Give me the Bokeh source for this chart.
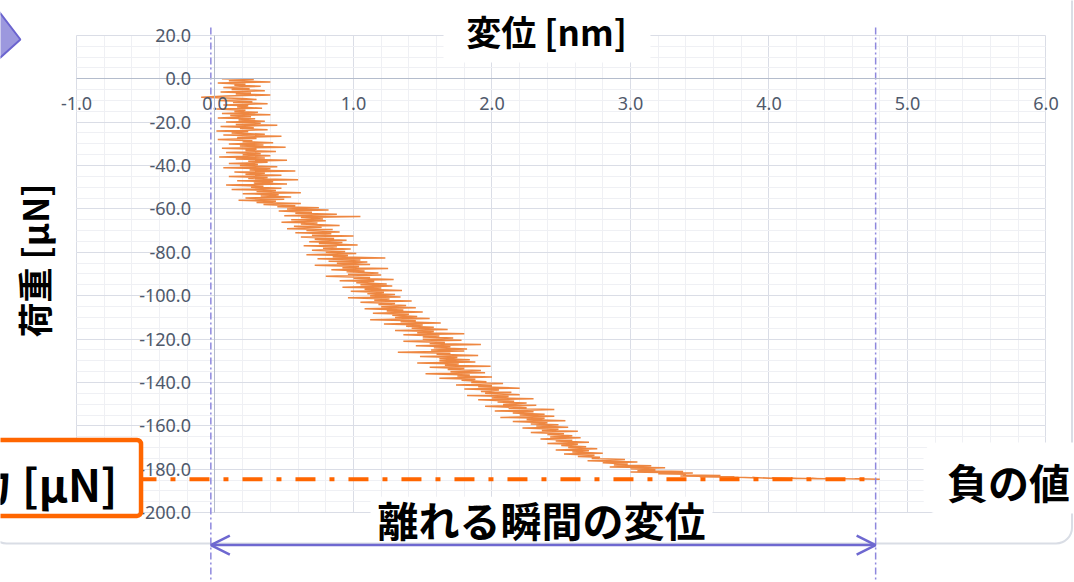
import math

from bokeh.plotting import figure
from bokeh.models import (Range1d, LinearAxis, Grid, FixedTicker, PrintfTickFormatter,
                          Label, BoxAnnotation, Arrow, OpenHead)
from bokeh.embed import file_html
from bokeh.resources import INLINE

# ---- measured pull-off curve: displacement [nm] vs load [uN] ----
displacement_nm = [
    0.05, 0.28, 0.10, 0.40, 0.02, 0.22, 0.14, 0.33, 0.06, 0.25,
    0.12, 0.36, 0.04, 0.26, 0.15, 0.40, 0.08, -0.10, 0.20, 0.30,
    0.03, 0.27, 0.13, 0.38, 0.06, 0.24, 0.16, 0.34, 0.01, 0.22,
    0.14, 0.31, 0.05, 0.40, 0.11, 0.26, 0.02, 0.29, 0.17, 0.36,
    0.08, 0.33, 0.15, 0.45, 0.04, 0.28, 0.18, 0.38, 0.01, 0.24,
    0.12, 0.36, 0.06, 0.48, 0.16, 0.30, 0.02, 0.27, 0.20, 0.42,
    0.10, 0.35, 0.18, 0.51, 0.05, 0.30, 0.22, 0.44, 0.08, 0.33,
    0.20, 0.40, 0.03, 0.36, 0.15, 0.52, 0.24, 0.38, 0.10, 0.31,
    0.18, 0.45, 0.06, 0.40, 0.25, 0.58, 0.14, 0.36, 0.22, 0.48,
    0.10, 0.38, 0.24, 0.60, 0.16, 0.42, 0.28, 0.52, 0.08, 0.35,
    0.26, 0.48, 0.12, 0.44, 0.30, 0.62, 0.20, 0.46, 0.33, 0.55,
    0.22, 0.50, 0.17, 0.44, 0.30, 0.62, 0.35, 0.58, 0.45, 0.75,
    0.52, 0.82, 0.46, 0.70, 0.58, 0.88, 0.50, 1.05, 0.62, 0.78,
    0.55, 0.80, 0.48, 0.74, 0.62, 0.90, 0.57, 0.77, 0.52, 0.85,
    0.66, 0.90, 0.58, 0.84, 0.70, 1.00, 0.62, 0.86, 0.72, 0.95,
    0.68, 0.92, 0.75, 1.03, 0.64, 0.88, 0.78, 0.98, 0.70, 0.94,
    0.80, 1.02, 0.66, 0.96, 0.85, 1.23, 0.74, 1.05, 0.82, 1.10,
    0.88, 1.12, 0.72, 1.04, 0.92, 1.25, 0.84, 1.08, 0.95, 1.18,
    0.96, 1.20, 0.80, 1.12, 1.00, 1.29, 0.90, 1.15, 1.02, 1.24,
    1.05, 1.28, 0.92, 1.20, 1.08, 1.35, 0.98, 1.22, 1.10, 1.30,
    1.12, 1.34, 0.96, 1.26, 1.15, 1.42, 1.05, 1.30, 1.18, 1.38,
    1.20, 1.45, 1.08, 1.36, 1.24, 1.50, 1.14, 1.40, 1.28, 1.46,
    1.30, 1.55, 1.12, 1.45, 1.34, 1.63, 1.22, 1.50, 1.38, 1.58,
    1.42, 1.68, 1.30, 1.58, 1.46, 1.80, 1.36, 1.62, 1.50, 1.72,
    1.50, 1.78, 1.36, 1.66, 1.55, 1.92, 1.45, 1.70, 1.58, 1.82,
    1.56, 1.80, 1.32, 1.70, 1.60, 1.90, 1.48, 1.75, 1.62, 1.84,
    1.62, 1.88, 1.46, 1.76, 1.66, 1.99, 1.55, 1.80, 1.68, 1.92,
    1.70, 1.95, 1.52, 1.84, 1.75, 2.00, 1.62, 1.88, 1.78, 1.96,
    1.85, 2.08, 1.74, 2.00, 1.90, 2.20, 1.80, 2.05, 1.92, 2.14,
    1.95, 2.20, 1.82, 2.12, 2.00, 2.30, 1.90, 2.16, 2.04, 2.25,
    2.08, 2.32, 1.95, 2.25, 2.12, 2.45, 2.02, 2.30, 2.15, 2.38,
    2.20, 2.45, 2.06, 2.38, 2.25, 2.53, 2.15, 2.40, 2.28, 2.48,
    2.32, 2.55, 2.22, 2.48, 2.36, 2.62, 2.28, 2.52, 2.40, 2.58,
    2.42, 2.64, 2.35, 2.58, 2.46, 2.70, 2.40, 2.62, 2.50, 2.68,
    2.55, 2.76, 2.46, 2.70, 2.58, 2.80, 2.52, 2.74, 2.62, 2.78,
    2.72, 2.96, 2.69, 3.05, 2.80, 2.98,
    2.88, 3.15, 2.85, 3.25, 3.00, 3.18,
    3.05, 3.38, 3.00, 3.45, 3.20, 3.40,
    3.38, 3.65, 3.36, 3.75, 3.50, 3.70,
    3.78, 3.92, 3.88, 4.06, 4.02, 4.20, 4.16, 4.35, 4.31, 4.50, 4.48, 4.65, 4.62, 4.80,
]
load_uN = [
    0.0, -0.4, -1.0, -1.5, -2.0, -2.6, -3.0, -3.5, -4.1, -4.6,
    -5.0, -5.5, -6.1, -6.6, -7.0, -7.5, -8.0, -8.5, -9.1, -9.6,
    -10.0, -10.6, -11.0, -11.5, -12.1, -12.5, -13.0, -13.6, -14.0, -14.5,
    -15.1, -15.5, -16.0, -16.6, -17.0, -17.5, -18.1, -18.5, -19.0, -19.6,
    -20.0, -20.5, -21.1, -21.5, -22.0, -22.6, -23.0, -23.5, -24.1, -24.5,
    -25.0, -25.6, -26.0, -26.5, -27.1, -27.5, -28.0, -28.6, -29.0, -29.5,
    -30.1, -30.5, -31.0, -31.6, -32.0, -32.5, -33.1, -33.5, -34.0, -34.6,
    -35.0, -35.5, -36.1, -36.5, -37.0, -37.6, -38.0, -38.5, -39.1, -39.5,
    -40.0, -40.6, -41.0, -41.5, -42.1, -42.5, -43.0, -43.6, -44.0, -44.5,
    -45.1, -45.5, -46.0, -46.6, -47.0, -47.5, -48.1, -48.5, -49.0, -49.6,
    -50.0, -50.5, -51.1, -51.5, -52.0, -52.6, -53.0, -53.5, -54.1, -54.5,
    -55.0, -55.6, -56.0, -56.5, -57.1, -57.5, -58.0, -58.6, -59.0, -59.5,
    -60.1, -60.5, -61.0, -61.6, -62.0, -62.5, -63.1, -63.5, -64.0, -64.6,
    -65.0, -65.5, -66.1, -66.5, -67.0, -67.6, -68.0, -68.5, -69.1, -69.5,
    -70.0, -70.6, -71.0, -71.5, -72.1, -72.5, -73.0, -73.6, -74.0, -74.5,
    -75.1, -75.5, -76.0, -76.6, -77.0, -77.5, -78.1, -78.5, -79.0, -79.6,
    -80.0, -80.5, -81.1, -81.5, -82.0, -82.6, -83.0, -83.5, -84.1, -84.5,
    -85.0, -85.6, -86.0, -86.5, -87.1, -87.5, -88.0, -88.6, -89.0, -89.5,
    -90.1, -90.5, -91.0, -91.6, -92.0, -92.5, -93.1, -93.5, -94.0, -94.6,
    -95.0, -95.5, -96.1, -96.5, -97.0, -97.6, -98.0, -98.5, -99.1, -99.5,
    -100.0, -100.6, -101.0, -101.5, -102.1, -102.5, -103.0, -103.6, -104.0, -104.5,
    -105.1, -105.5, -106.0, -106.6, -107.0, -107.5, -108.1, -108.5, -109.0, -109.6,
    -110.0, -110.5, -111.1, -111.5, -112.0, -112.6, -113.0, -113.5, -114.1, -114.5,
    -115.0, -115.6, -116.0, -116.5, -117.1, -117.5, -118.0, -118.6, -119.0, -119.5,
    -120.1, -120.5, -121.0, -121.6, -122.0, -122.5, -123.1, -123.5, -124.0, -124.6,
    -125.0, -125.5, -126.1, -126.5, -127.0, -127.6, -128.0, -128.5, -129.1, -129.5,
    -130.0, -130.6, -131.0, -131.5, -132.1, -132.5, -133.0, -133.6, -134.0, -134.5,
    -135.1, -135.5, -136.0, -136.6, -137.0, -137.5, -138.1, -138.5, -139.0, -139.6,
    -140.0, -140.5, -141.1, -141.5, -142.0, -142.6, -143.0, -143.5, -144.1, -144.5,
    -145.0, -145.6, -146.0, -146.5, -147.1, -147.5, -148.0, -148.6, -149.0, -149.5,
    -150.1, -150.5, -151.0, -151.6, -152.0, -152.5, -153.1, -153.5, -154.0, -154.6,
    -155.0, -155.5, -156.1, -156.5, -157.0, -157.6, -158.0, -158.5, -159.1, -159.5,
    -160.0, -160.6, -161.0, -161.5, -162.1, -162.5, -163.0, -163.6, -164.0, -164.5,
    -165.1, -165.5, -166.0, -166.6, -167.0, -167.5, -168.1, -168.5, -169.0, -169.6,
    -170.0, -170.5, -171.1, -171.5, -172.0, -172.6, -173.0, -173.5, -174.1, -174.5,
    -175.0, -175.5, -176.1, -176.6, -177.0, -177.6,
    -178.0, -178.4, -178.9, -179.3, -179.8, -180.2,
    -180.6, -181.0, -181.3, -181.7, -182.0, -182.3,
    -182.6, -182.9, -183.1, -183.4, -183.6, -183.5,
    -183.7, -184.0, -183.8, -184.2, -184.0, -184.3, -184.1, -184.4, -184.2, -184.5, -184.3, -184.5, -184.4, -184.6,
]

# ---- axis ticks ----
x_ticks = [-1.0, 0.0, 1.0, 2.0, 3.0, 4.0, 5.0, 6.0]
y_ticks = [20.0, 0.0, -20.0, -40.0, -60.0, -80.0, -100.0, -120.0,
           -140.0, -160.0, -180.0, -200.0]
x_minor = [round(-1.0 + 0.2 * i, 1) for i in range(36)]
y_minor = [20.0 - 5.0 * i for i in range(45)]

# ---- annotation anchors (displacement at contact start / at separation) ----
contact_x = -0.03
separation_x = 4.77
pull_off_load = min(load_uN)

# canvas-wide data window; the plotting area is x -1..6, y -200..20
X_VIEW = (-1.5487, 6.2058)
Y_VIEW = (-232.17, 36.04)

ORANGE = "#ED7D31"
ACCENT = "#FF6600"
PURPLE = "#6E68D0"
TICK_COLOR = "#4F596B"
JP_FONT = "Noto Sans CJK JP"

p = figure(width=1074, height=582, x_range=Range1d(*X_VIEW), y_range=Range1d(*Y_VIEW),
           x_axis_type=None, y_axis_type=None, output_backend="svg",
           toolbar_location=None, min_border=0)
p.outline_line_color = None
p.background_fill_color = "white"
p.border_fill_color = "white"

xt = FixedTicker(ticks=x_ticks, minor_ticks=x_minor)
yt = FixedTicker(ticks=y_ticks, minor_ticks=y_minor)

for dim, tk, b, cb in ((0, xt, (-1.0, 6.0), (-200.0, 20.0)),
                       (1, yt, (-200.0, 20.0), (-1.0, 6.0))):
    g = Grid(dimension=dim, ticker=tk, bounds=b, cross_bounds=cb,
             grid_line_color="#DADDE6", grid_line_width=1,
             minor_grid_line_color="#EFF0F4", minor_grid_line_width=1)
    p.add_layout(g)

fmt = PrintfTickFormatter(format="%.1f")
axis_style = dict(formatter=fmt, fixed_location=0,
                  axis_line_color="#B4BCCC", axis_line_width=1,
                  major_tick_in=0, major_tick_out=0, minor_tick_in=0, minor_tick_out=0,
                  major_label_text_font="Noto Sans", major_label_text_font_size="18px",
                  major_label_text_color=TICK_COLOR)
xaxis = LinearAxis(ticker=xt, bounds=(-1.0, 6.0), major_label_standoff=18, **axis_style)
yaxis = LinearAxis(ticker=yt, bounds=(-200.0, 20.0), major_label_standoff=24, **axis_style)
p.add_layout(xaxis, "below")
p.add_layout(yaxis, "left")

# slide frame around the chart
p.add_layout(BoxAnnotation(left=-1.62, right=6.188, top=60, bottom=-214.2,
                           fill_alpha=0, line_color="#D9DDE5", line_width=2,
                           line_alpha=1, border_radius=16, level="underlay"))

# pull-off curve
p.line(displacement_nm, load_uN, line_color=ORANGE, line_width=1.5, line_alpha=0.92)

# minimum (pull-off) load
p.line([-0.567, 4.69], [pull_off_load, pull_off_load], line_color=ACCENT,
       line_width=4, line_dash="20 14 5 14")

# vertical markers at contact start and at separation
p.segment(x0=[contact_x, separation_x], y0=[23.6, 23.6],
          x1=[contact_x, separation_x], y1=[-240.0, -240.0],
          line_color="#8E88DD", line_width=1.5, line_dash="7 3 2 3")

# separation displacement arrow
arrow_y = -214.9
p.add_layout(Arrow(x_start=contact_x, y_start=arrow_y, x_end=separation_x, y_end=arrow_y,
                   line_color=PURPLE, line_width=2.5,
                   start=OpenHead(size=19, line_color=PURPLE, line_width=2.5),
                   end=OpenHead(size=19, line_color=PURPLE, line_width=2.5)))

# decorative chevron at the top-left corner
p.patch([-1.621, -1.405, -1.621], [36.0, 18.06, 5.6], fill_color="#9C98DE",
        line_color="#6B64CF", line_width=2)

# white panels behind the texts
def panel(l, r, t, b, **kw):
    style = dict(fill_color="white", fill_alpha=1, line_alpha=0, level="annotation")
    style.update(kw)
    p.add_layout(BoxAnnotation(left=l, right=r, top=t, bottom=b, **style))

panel(1.650, 3.144, 60.0, 7.5)
panel(1.123, 3.592, -192.6, -212.8)
panel(5.116, 6.40, -167.7, -200.4, border_radius=14)
panel(-1.70, -0.534, -166.5, -201.5, line_color=ACCENT, line_alpha=1,
      line_width=4.5, border_radius=4)

def text(x, y, s, size, align="center", angle=0.0):
    p.add_layout(Label(x=x, y=y, text=s, text_font=JP_FONT, text_font_size=size,
                       text_font_style="bold", text_color="black", text_align=align,
                       text_baseline="middle", angle=angle, level="overlay"))

text(2.394, 22.2, "変位 [nm]", "35px")
text(-1.310, -83.8, "荷重 [μN]", "35px", angle=math.pi / 2)
text(2.357, -202.7, "離れる瞬間の変位", "41px")
text(5.729, -185.2, "負の値", "41px")
text(-0.704, -186.5, "凝着力 [μN]", "44px", align="right")

open("out.html", "w").write(file_html(p, INLINE))
